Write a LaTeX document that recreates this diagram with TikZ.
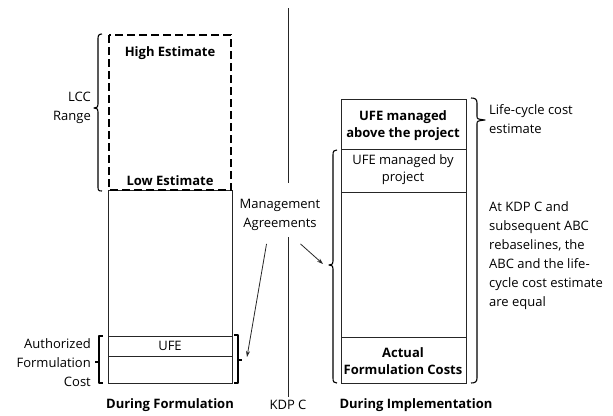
\documentclass[tikz,border=0pt]{standalone}
\usepackage{fontspec}
\setmainfont{Open Sans}
\usetikzlibrary{arrows.meta}
\begin{document}
\begin{tikzpicture}[x=1pt,y=-1pt,
  txt/.style={font=\fontsize{13}{19}\selectfont, inner sep=0pt, align=center},
  btxt/.style={font=\bfseries\fontsize{13}{19}\selectfont, inner sep=0pt, align=center},
  boxtxt/.style={font=\fontsize{13}{17}\selectfont, inner sep=0pt, align=center},
  bboxtxt/.style={font=\bfseries\fontsize{13}{17}\selectfont, inner sep=0pt, align=center},
  thinbox/.style={draw=black!85, line width=0.8pt},
  estbox/.style={draw=black, line width=2.6pt, dash pattern=on 8pt off 4pt},
  brace/.style={draw=black, line width=1.1pt, line join=round},
  arr/.style={draw=black!85, line width=0.8pt, -{Stealth[length=6pt,width=4pt]}},
  kdp/.style={draw=black!85, line width=0.8pt}]
\useasboundingbox (0,0) rectangle (613,415);

% ---- left column: during formulation
\draw[thinbox] (108,190) rectangle (232,383);
\draw[thinbox] (108,336) -- (232,336);
\draw[thinbox] (108,356) -- (232,356);
\draw[estbox] (109,35) rectangle (231,190);
\node[btxt] (high) at (170,53) {High Estimate};
\node[btxt] (low) at (170,181) {Low Estimate};
\node[txt] (ufe) at (170,346) {UFE};
\node[txt, align=right, anchor=east] (lcc) at (91,108) {LCC\\Range};
\node[txt, align=right, anchor=east] (afc) at (91,363) {Authorized\\Formulation\\Cost};

% LCC brace
\draw[brace] (102,34) .. controls (98,34) and (98,36) .. (98,40) -- (98,104)
  .. controls (98,107) .. (94,108) .. controls (98,109) .. (98,112) -- (98,186)
  .. controls (98,190) and (98,191) .. (102,191);
% UFE brackets
\draw[brace] (103,336) -- (99,336) -- (99,383) -- (103,383);
\draw[brace] (99,362) -- (95,362);
\draw[brace] (234,335) -- (238,335) -- (238,383) -- (234,383);
\draw[brace] (238,360) -- (242,360);

% ---- KDP C line
\draw[kdp] (288,8) -- (288,183);
\draw[kdp] (288,237) -- (288,397);
\node[txt] (kdpc) at (288,405) {KDP C};

% Management agreements
\node[txt] (mgmt) at (280,215) {Management\\Agreements};
\coordinate (mgL) at (247,357);
\coordinate (mgR) at (323,264);
\draw[arr] (mgmt.south west) ++(27,13) -- (mgL);
\draw[arr] (mgmt.south east) ++(-20,13) -- (mgR);

% ---- right column: during implementation
\draw[thinbox] (341,99) rectangle (466,383);
\draw[thinbox] (341,149) -- (466,149);
\draw[thinbox] (341,192) -- (466,192);
\draw[thinbox] (341,337) -- (466,337);
\node[bboxtxt] (ufeabove) at (403,126) {UFE managed\\above the project};
\node[boxtxt] (ufeby) at (403,170) {UFE managed by\\project};
\node[bboxtxt] (actual) at (403,361) {Actual\\Formulation Costs};

% right brace (life-cycle cost estimate)
\draw[brace] (471,98) .. controls (475,98) and (477,99) .. (477,103) -- (477,116)
  .. controls (477,119) .. (485,120) .. controls (477,121) .. (477,124) -- (477,378)
  .. controls (477,382) and (475,383) .. (471,383);
% left brace of right box
\draw[brace] (337,150) .. controls (334,150) and (333,151) .. (333,155) -- (333,261)
  .. controls (333,264) .. (329,265) .. controls (333,266) .. (333,269) -- (333,378)
  .. controls (333,382) and (334,383) .. (337,383);

\node[txt, align=left, anchor=west] (lcce) at (489,119) {Life-cycle cost\\estimate};
\node[txt, align=left, anchor=west] (note) at (489,256) {At KDP C and\\subsequent ABC\\rebaselines, the\\ABC and the life-\\cycle cost estimate\\are equal};

% captions
\node[btxt] (capF) at (170,405) {During Formulation};
\node[btxt] (capI) at (416,405) {During Implementation};
\end{tikzpicture}
\end{document}
